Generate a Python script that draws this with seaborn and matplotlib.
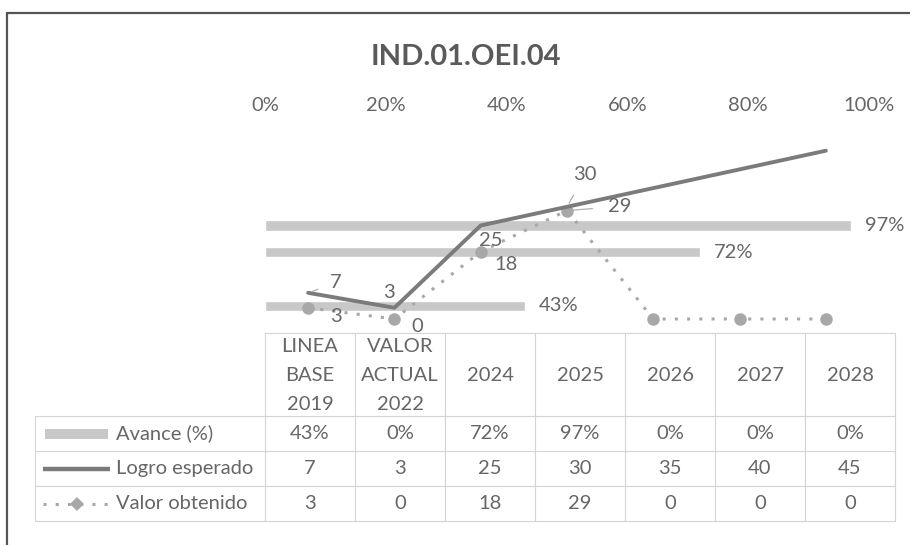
import numpy as np
import pandas as pd
import matplotlib
matplotlib.use("Agg")
import matplotlib.pyplot as plt
import seaborn as sns
from matplotlib.patches import Rectangle

# data
categories = ["LINEA\nBASE\n2019", "VALOR\nACTUAL\n2022", "2024", "2025", "2026", "2027", "2028"]
avance = [0.43, 0.00, 0.72, 0.97, 0.00, 0.00, 0.00]
logro_esperado = [7, 3, 25, 30, 35, 40, 45]
valor_obtenido = [3, 0, 18, 29, 0, 0, 0]
pct_ticks = [0, 0.2, 0.4, 0.6, 0.8, 1.0]
series_names = ["Avance (%)", "Logro esperado", "Valor obtenido"]
title = "IND.01.OEI.04"

sns.set_style("white")
plt.rcParams["font.family"] = ["Lato", "DejaVu Sans"]

W, H = 910, 545
fig = plt.figure(figsize=(W / 100, H / 100), dpi=100)


def fx(x):
    return x / W


def fy(y):
    return 1 - y / H


FS = 14.5
TXT = "#666666"
BAR_C = "#c8c8c8"
LOGRO_C = "#7b7b7b"
VALOR_C = "#a8a8a8"
GRID_C = "#d4d4d4"

df = pd.DataFrame({
    "cat": categories,
    "pos": np.arange(len(categories)),
    "avance": avance,
    "logro": logro_esperado,
    "valor": valor_obtenido,
})

# -------- plot area (bars + lines share it) --------
rect = [fx(265), fy(319), fx(869) - fx(265), fy(132) - fy(319)]
axb = fig.add_axes(rect)
axl = fig.add_axes(rect)
axl.patch.set_visible(False)

sns.barplot(data=df, x="avance", y="cat", orient="h", color=BAR_C,
            saturation=1, width=0.38, ax=axb)
axb.set_ylim(-0.5, len(categories) - 0.5)
axb.set_xlim(0, 1)
axb.xaxis.tick_top()
axb.set_xticks(pct_ticks)
axb.set_xticklabels([f"{int(round(t * 100))}%" for t in pct_ticks])
axb.tick_params(axis="x", length=0, pad=13, labelsize=FS, labelcolor=TXT)
axb.set_yticks([])
axb.set_xlabel("")
axb.set_ylabel("")
for s in axb.spines.values():
    s.set_visible(False)

for i, v in enumerate(avance):
    if v > 0:
        axb.annotate(f"{v:.0%}", xy=(v, i), xytext=(10, 0), textcoords="offset points",
                     ha="left", va="center", fontsize=FS, color=TXT)

sns.lineplot(data=df, x="pos", y="valor", ax=axl, color=VALOR_C, lw=2.2,
             linestyle=(0, (1, 3)), marker="o", markersize=9,
             markeredgecolor=VALOR_C, markeredgewidth=0, zorder=2, clip_on=False)
sns.lineplot(data=df, x="pos", y="logro", ax=axl, color=LOGRO_C, lw=2.8, zorder=3,
             clip_on=False)
axl.set_xlim(-0.5, len(categories) - 0.5)
axl.set_ylim(0, 50)
axl.axis("off")

# data labels (only the first four points carry labels in the original)
logro_off = [(28, -10), (-5, -15), (10, 15), (18, -32)]
valor_off = [(28, 9), (23, 8), (25, 13), (53, -4)]
for i, (dx, dy) in enumerate(logro_off):
    axl.annotate(str(logro_esperado[i]), xy=(i, logro_esperado[i]),
                 xytext=(dx * 0.72, -dy * 0.72), textcoords="offset points",
                 ha="center", va="center", fontsize=FS, color=TXT,
                 arrowprops=dict(arrowstyle="-", color="#b0b0b0", lw=0.9,
                                 shrinkA=7, shrinkB=3) if i in (0, 3) else None)
for i, (dx, dy) in enumerate(valor_off):
    axl.annotate(str(valor_obtenido[i]), xy=(i, valor_obtenido[i]),
                 xytext=(dx * 0.72, -dy * 0.72), textcoords="offset points",
                 ha="center", va="center", fontsize=FS, color=TXT,
                 arrowprops=dict(arrowstyle="-", color="#b0b0b0", lw=0.9,
                                 shrinkA=9, shrinkB=4) if i in (0, 3) else None)

# -------- title --------
fig.text(fx(466), fy(57), title, ha="center", va="center", fontsize=21,
         fontweight="bold", color="#5a5a5a")

# -------- data table + legend keys --------
ov = fig.add_axes([0, 0, 1, 1])
ov.set_xlim(0, W)
ov.set_ylim(H, 0)
ov.axis("off")
ov.patch.set_visible(False)

col_left, col_w = 265, 90
leg_left = 35
head_top, head_bot, row_h = 333, 416, 35
n = len(categories)
right = col_left + n * col_w

ov.plot([col_left, right], [head_top, head_top], color=GRID_C, lw=0.8)
for r in range(4):
    y = head_bot + r * row_h
    ov.plot([leg_left, right], [y, y], color=GRID_C, lw=0.8)
ov.plot([leg_left, leg_left], [head_bot, head_bot + 3 * row_h], color=GRID_C, lw=0.8)
for k in range(n + 1):
    x = col_left + k * col_w
    ov.plot([x, x], [head_top, head_bot + 3 * row_h], color=GRID_C, lw=0.8)

rows = [[f"{v:.0%}" for v in avance],
        [str(v) for v in logro_esperado],
        [str(v) for v in valor_obtenido]]
for i, cat in enumerate(categories):
    cx = col_left + (i + 0.5) * col_w
    ov.text(cx, (head_top + head_bot) / 2 + 1, cat, ha="center", va="center",
            fontsize=FS, color=TXT, linespacing=1.85)
    for r, row in enumerate(rows):
        ov.text(cx, head_bot + (r + 0.5) * row_h, row[i], ha="center", va="center",
                fontsize=FS, color=TXT)

yc = [head_bot + (r + 0.5) * row_h for r in range(3)]
ov.add_patch(Rectangle((45, yc[0] - 5), 63, 10, color=BAR_C, lw=0))
ov.plot([43, 110], [yc[1], yc[1]], color=LOGRO_C, lw=3.2, solid_capstyle="butt")
ov.plot([43, 110], [yc[2], yc[2]], color=VALOR_C, lw=2.2, linestyle=(0, (1, 3)))
ov.plot([77], [yc[2]], marker="D", color=VALOR_C, markersize=7, mew=0)
for r, name in enumerate(series_names):
    ov.text(116, yc[r], name, ha="left", va="center", fontsize=FS, color=TXT)

# chart border (left and top edges visible in the scan)
ov.plot([7, 7], [13, H], color="#555555", lw=1.6)
ov.plot([7, W], [13, 13], color="#555555", lw=1.6)

fig.savefig("out.png", dpi=100)
